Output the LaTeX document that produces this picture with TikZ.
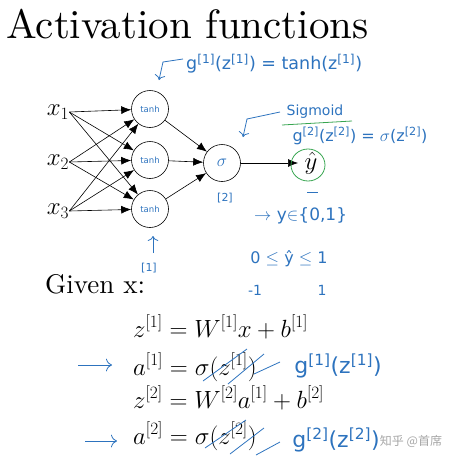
\documentclass[tikz,border=0pt]{standalone}
\usepackage{amsmath}
\usepackage{fontspec}
\newfontfamily\titlefont{lmroman10-regular.otf}
\newfontfamily\handfont{DejaVu Sans}
\newfontfamily\cjkfont{Noto Sans CJK SC}
\usetikzlibrary{arrows.meta,positioning}

\definecolor{pen}{RGB}{45,115,190}
\definecolor{marker}{RGB}{55,165,80}

\tikzset{
	neuron/.style={draw,circle,minimum size=37pt,inner sep=0pt,line width=0.6pt},
	link/.style={-{Latex[length=10pt,width=8pt]},line width=0.6pt},
	hand/.style={text=pen,inner sep=0pt,font=\handfont\fontsize{#1}{#1}\selectfont},
	hand/.default=14,
	penline/.style={draw=pen,line width=0.8pt},
	big/.style={font=\fontsize{#1}{#1}\selectfont,inner sep=0pt},
	heading/.style={font=\titlefont\fontsize{#1}{#1}\selectfont,inner sep=0pt,anchor=base west},
}

\begin{document}
\begin{tikzpicture}[x=1pt,y=-1pt]
		\useasboundingbox (0,0) rectangle (456,458);

		\node[heading=41] (title) at (6,38) {Activation functions};

		%%% RETE
		\node[big=25] (x1) at (58,112) {$x_1$};
		\node[big=25] (x2) at (58,162) {$x_2$};
		\node[big=25] (x3) at (58,211) {$x_3$};

		\node[neuron] (h1) at (150,109) {};
		\node[neuron] (h2) at (150,160) {};
		\node[neuron] (h3) at (150,209) {};
		\node[neuron] (out) at (222,163) {};
		\node[big=24] (yhat) at (311,163) {$\hat{y}$};

		\foreach \i in {1,2,3}
			\foreach \j in {1,2,3}
				\draw[link] (x\i.east) -- (h\j);
		\foreach \j in {1,2,3}
			\draw[link] (h\j) -- (out);
		\draw[link] (out) -- (298,163);
		\draw[marker,line width=0.8pt] (308,165) ellipse (17 and 16);

		%%% NOTE A MANO
		\node[hand=8.5] (t1) at (h1) {tanh};
		\node[hand=8.5] (t2) at (h2) {tanh};
		\node[hand=8.5] (t3) at (h3) {tanh};
		\node[hand=18] (sg) at (out) {$\sigma$};

		\node[hand=17.5,anchor=west] (gone) at (186,64) {g\textsuperscript{[1]}(z\textsuperscript{[1]}) = tanh(z\textsuperscript{[1]})};
		\coordinate (c1) at (183,59);
		\coordinate (c1h) at (163,62);
		\draw[penline,-{To[length=5pt]}] (c1) -- (c1h) -- (159,80);

		\node[hand=14] (sig) at (315,112) {Sigmoid};
		\draw[marker,line width=0.8pt] (282,125) -- (352,121);
		\node[hand=16] (gtwo) at (360,136) {g\textsuperscript{[2]}(z\textsuperscript{[2]}) = $\sigma$(z\textsuperscript{[2]})};
		\coordinate (c2) at (280,112);
		\draw[penline,-{To[length=5pt]}] (c2) -- (247,119) -- (243,137);

		\node[hand=11] (l2) at (225,198) {[2]};
		\draw[penline] (307,192) -- (318,192);
		\node[hand=17,anchor=west] (ybin) at (254,216) {$\rightarrow$ y$\in$\{0,1\}};

		\coordinate (c3) at (153,253);
		\draw[penline,-{To[length=5pt]}] (c3) -- (153,236);
		\node[hand=11] (l1) at (149,268) {[1]};

		\node[hand=16] (range) at (289,259) {0 $\leq$ \^y $\leq$ 1};
		\node[hand=14] (m1) at (255,290) {-1};
		\node[hand=14] (p1) at (322,290) {1};

		%%% EQUAZIONI
		\node[heading=27] (given) at (45,293) {Given x:};
		\node[big=25.8,anchor=base west] (eq1) at (133,337) {$z^{[1]}=W^{[1]}x+b^{[1]}$};
		\node[big=25.8,anchor=base west] (eq2) at (133,375) {$a^{[1]}=\sigma(z^{[1]})$};
		\node[big=25.8,anchor=base west] (eq3) at (133,408) {$z^{[2]}=W^{[2]}a^{[1]}+b^{[2]}$};
		\node[big=25.8,anchor=base west] (eq4) at (133,444) {$a^{[2]}=\sigma(z^{[2]})$};

		\coordinate (a1) at (78,365);
		\coordinate (a2) at (85,441);
		\draw[penline,-{To[length=6pt]}] (a1) -- ++(34,0);
		\draw[penline,-{To[length=6pt]}] (a2) -- ++(32,0);

		\draw[penline] (203,381) -- (247,349) (228,384) -- (264,354) (254,374) -- (280,362);
		\draw[penline] (205,448) -- (246,420) (230,454) -- (264,428) (256,455) -- (280,442);

		\node[hand=22] (g1) at (338,366) {g\textsuperscript{[1]}(z\textsuperscript{[1]})};
		\node[hand=22] (g2) at (336,440) {g\textsuperscript{[2]}(z\textsuperscript{[2]})};

		\node[font=\cjkfont\fontsize{12}{12}\selectfont,text=gray!70] (wm) at (411,441) {知乎 @首席};
	\end{tikzpicture}
\end{document}
